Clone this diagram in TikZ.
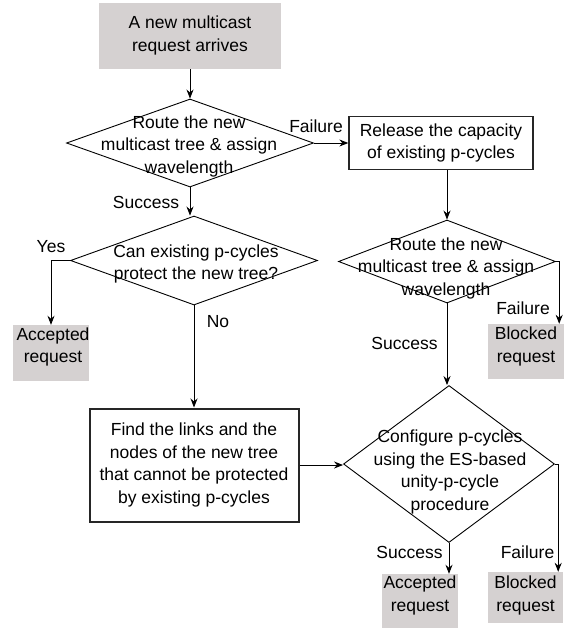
\documentclass[tikz,border=0pt]{standalone}
\usepackage{fontspec}
\setmainfont{Liberation Sans}
\usetikzlibrary{shapes.geometric, arrows.meta, positioning}
\definecolor{boxgray}{RGB}{213,209,209}

\begin{document}
\begin{tikzpicture}[x=1pt, y=-1pt,
        txt/.style={font=\fontsize{17.5}{22.5}\selectfont, align=center, inner sep=0pt},
        term/.style={rectangle, fill=boxgray, inner sep=0pt},
        proc/.style={rectangle, draw=black!85, fill=white, txt},
        dec/.style={diamond, draw, line width=0.9pt, inner sep=0pt},
        arr/.style={-{Stealth[length=9pt, width=7pt]}, line width=0.9pt}]
        \useasboundingbox (0,0) rectangle (573,630);

        % Entrada
        \node[term, minimum width=182pt, minimum height=66pt] (arv) at (190,36) {};
        \node[txt] at (190,35.5) {A new multicast\\request arrives};

        % Primer enrutamiento
        \node[dec, minimum width=247pt, minimum height=88pt] (rt1) at (190,143) {};
        \node[txt] at (189,146) {Route the new\\multicast tree \& assign\\wavelength};
        \node[proc, line width=1.3pt, minimum width=184pt, minimum height=53pt] (rel) at (441,143) {Release the capacity\\of existing p-cycles};

        % Proteccion con p-cycles existentes
        \node[dec, minimum width=247pt, minimum height=89pt] (prt) at (194,260.5) {};
        \node[txt] at (196,264) {Can existing p-cycles\\protect the new tree?};
        \node[term, minimum width=76pt, minimum height=56pt] (acc1) at (51,353) {};
        \node[txt] at (53,347) {Accepted\\request};
        \node[proc, line width=2pt, minimum width=209pt, minimum height=113pt] (fnd) at (194,465) {Find the links and the\\nodes of the new tree\\that cannot be protected\\by existing p-cycles};

        % Segundo enrutamiento
        \node[dec, minimum width=217pt, minimum height=83pt] (rt2) at (447,261.5) {};
        \node[txt] at (446,268) {Route the new\\multicast tree \& assign\\wavelength};
        \node[term, minimum width=76pt, minimum height=55pt] (blk1) at (526,351.5) {};
        \node[txt] at (526,346.5) {Blocked\\request};

        % Configuracion de p-cycles
        \node[dec, minimum width=211pt, minimum height=157pt] (cfg) at (449,464) {};
        \node[txt] at (450,472) {Configure p-cycles\\using the ES-based\\unity-p-cycle\\procedure};
        \node[term, minimum width=76pt, minimum height=54pt] (acc2) at (420,601) {};
        \node[txt] at (420,595.5) {Accepted\\request};
        \node[term, minimum width=75pt, minimum height=51pt] (blk2) at (525.5,597.5) {};
        \node[txt] at (525.5,595.5) {Blocked\\request};

        % Conexiones
        \draw[arr] (arv) -- (rt1);
        \draw[arr] (rt1.east) -- (rel.west);
        \draw[arr] (rt1.south) -- (rt1.south |- prt.north);
        \draw[arr] (prt.west) -| (acc1.north);
        \draw[arr] (prt.south) -- (prt.south |- fnd.north);
        \draw[arr] (rel.south -| rt2.north) -- (rt2.north);
        \draw[arr] (rt2.east) -| ([xshift=-5pt]blk1.north east);
        \draw[arr] (rt2.south) -- (rt2.south |- cfg.north);
        \draw[arr] (fnd.east) -- (fnd.east -| cfg.west);
        \draw[arr] (cfg.south) -- (cfg.south |- acc2.north);
        \draw[arr] (cfg.east) -| ([xshift=-5pt]blk2.north east);

        % Etiquetas
        \node[txt] at (316,126) {Failure};
        \node[txt] at (146,202) {Success};
        \node[txt] at (51,247) {Yes};
        \node[txt] at (218,322) {No};
        \node[txt] at (523,308) {Failure};
        \node[txt] at (404.5,343) {Success};
        \node[txt] at (409.5,552) {Success};
        \node[txt] at (527.5,552) {Failure};
    \end{tikzpicture}
\end{document}
